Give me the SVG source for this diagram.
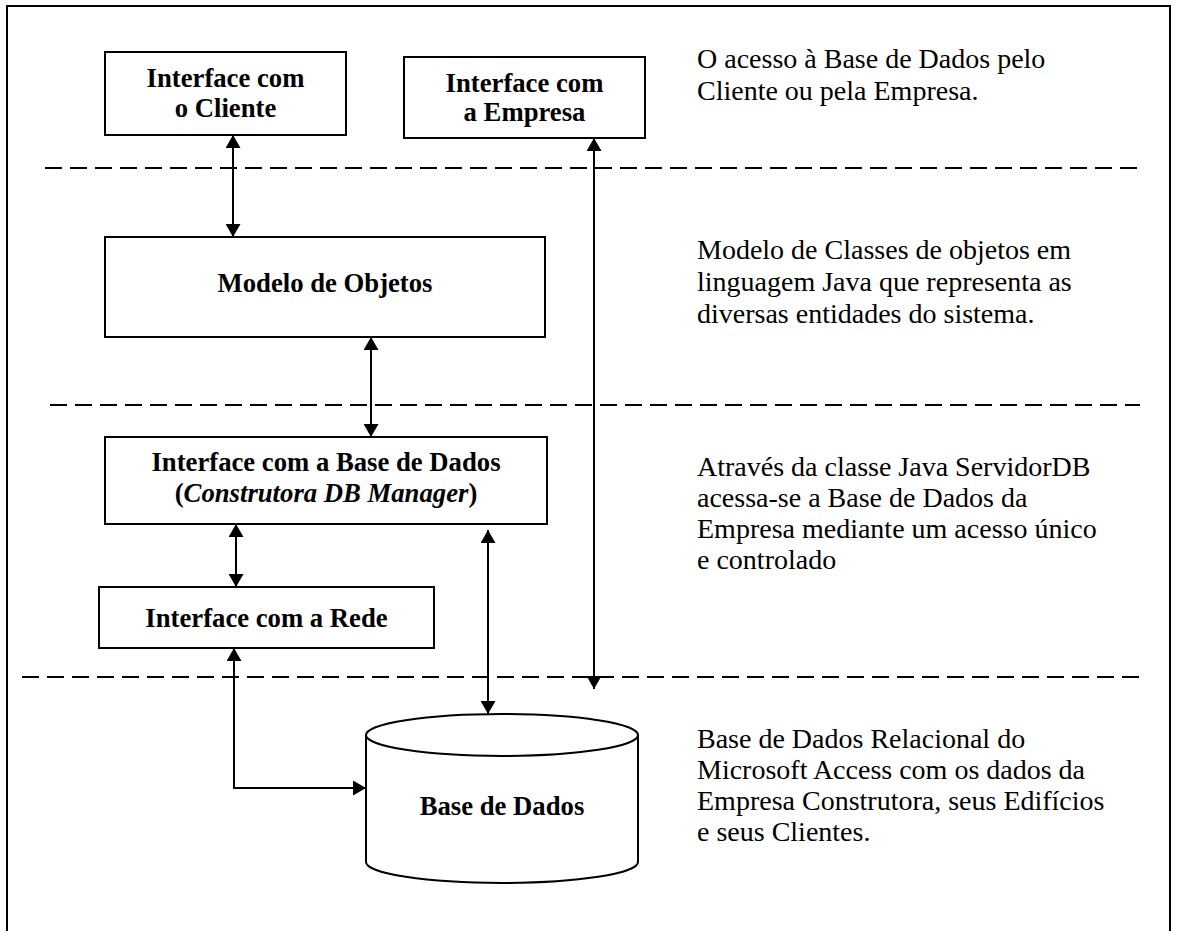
<svg xmlns="http://www.w3.org/2000/svg" width="1179" height="931" viewBox="0 0 1179 931">
  <style>
    .box { fill: #fff; stroke: #000; stroke-width: 2; }
    .lbl { font-family: "Liberation Serif", "Times New Roman", serif; font-size: 26.7px; font-weight: bold; text-anchor: middle; fill: #000; }
    .note { font-family: "Liberation Serif", "Times New Roman", serif; font-size: 28px; fill: #000; }
    .sep { stroke: #000; stroke-width: 2; stroke-dasharray: 17 8; fill: none; }
    .link { stroke: #000; stroke-width: 2; fill: none; }
    .both { marker-start: url(#arrow); marker-end: url(#arrow); }
    .end { marker-end: url(#arrow); }
  </style>
  <defs>
    <marker id="arrow" viewBox="0 0 13 15" refX="13" refY="7.5" markerWidth="13" markerHeight="15" markerUnits="userSpaceOnUse" orient="auto-start-reverse">
      <path d="M0,0 L13,7.5 L0,15 Z" fill="#000"/>
    </marker>
  </defs>

  <rect width="1179" height="931" fill="#fff"/>
  <!-- outer frame (open at the bottom edge) -->
  <path d="M7,940 L7,6 L1170,6 L1170,940" fill="none" stroke="#000" stroke-width="2"/>

  <!-- layer separators -->
  <g id="separators">
    <line class="sep" x1="45" y1="168" x2="1137" y2="168"/>
    <line class="sep" x1="50" y1="405" x2="1140" y2="405"/>
    <line class="sep" x1="22" y1="677" x2="1143" y2="677"/>
  </g>

  <g id="iface-cliente">
    <rect class="box" x="105" y="52" width="241" height="83"/>
    <text class="lbl" x="225.5" y="87">Interface com</text>
    <text class="lbl" x="225.5" y="117">o Cliente</text>
  </g>

  <g id="iface-empresa">
    <rect class="box" x="404" y="57" width="241" height="81"/>
    <text class="lbl" x="524.5" y="92">Interface com</text>
    <text class="lbl" x="524.5" y="121">a Empresa</text>
  </g>

  <g id="modelo-objetos">
    <rect class="box" x="105" y="237" width="440" height="100"/>
    <text class="lbl" x="325" y="292">Modelo de Objetos</text>
  </g>

  <g id="iface-base-dados">
    <rect class="box" x="105" y="437" width="442" height="87"/>
    <text class="lbl" x="326" y="471">Interface com a Base de Dados</text>
    <text class="lbl" x="326" y="502">(<tspan font-style="italic">Construtora DB Manager</tspan>)</text>
  </g>

  <g id="iface-rede">
    <rect class="box" x="99" y="587" width="335" height="61"/>
    <text class="lbl" x="266.5" y="627">Interface com a Rede</text>
  </g>

  <g id="base-dados">
    <path class="box" d="M366,735 A136,21 0 0 1 638,735 L638,862 A136,21 0 0 1 366,862 Z"/>
    <path class="link" d="M366,735 A136,21 0 0 0 638,735"/>
    <text class="lbl" x="502" y="815">Base de Dados</text>
  </g>

  <g id="connectors">
    <line class="link both" x1="233" y1="135" x2="233" y2="237"/>
    <line class="link both" x1="594" y1="138" x2="594" y2="689"/>
    <line class="link both" x1="371" y1="337" x2="371" y2="437"/>
    <line class="link both" x1="236" y1="524" x2="236" y2="587"/>
    <line class="link both" x1="488" y1="530" x2="488" y2="714"/>
    <path class="link both" d="M234,648 L234,788 L366,788"/>
  </g>

  <g id="notes">
    <text class="note" x="697" y="68">O acesso à Base de Dados pelo</text>
    <text class="note" x="697" y="100">Cliente ou pela Empresa.</text>

    <text class="note" x="697" y="259">Modelo de Classes de objetos em</text>
    <text class="note" x="697" y="291">linguagem Java que representa as</text>
    <text class="note" x="697" y="323">diversas entidades do sistema.</text>

    <text class="note" x="697" y="476">Através da classe Java ServidorDB</text>
    <text class="note" x="697" y="507">acessa-se a Base de Dados da</text>
    <text class="note" x="697" y="538">Empresa mediante um acesso único</text>
    <text class="note" x="697" y="569">e controlado</text>

    <text class="note" x="697" y="748">Base de Dados Relacional do</text>
    <text class="note" x="697" y="779">Microsoft Access com os dados da</text>
    <text class="note" x="697" y="810">Empresa Construtora, seus Edifícios</text>
    <text class="note" x="697" y="841">e seus Clientes.</text>
  </g>
</svg>
